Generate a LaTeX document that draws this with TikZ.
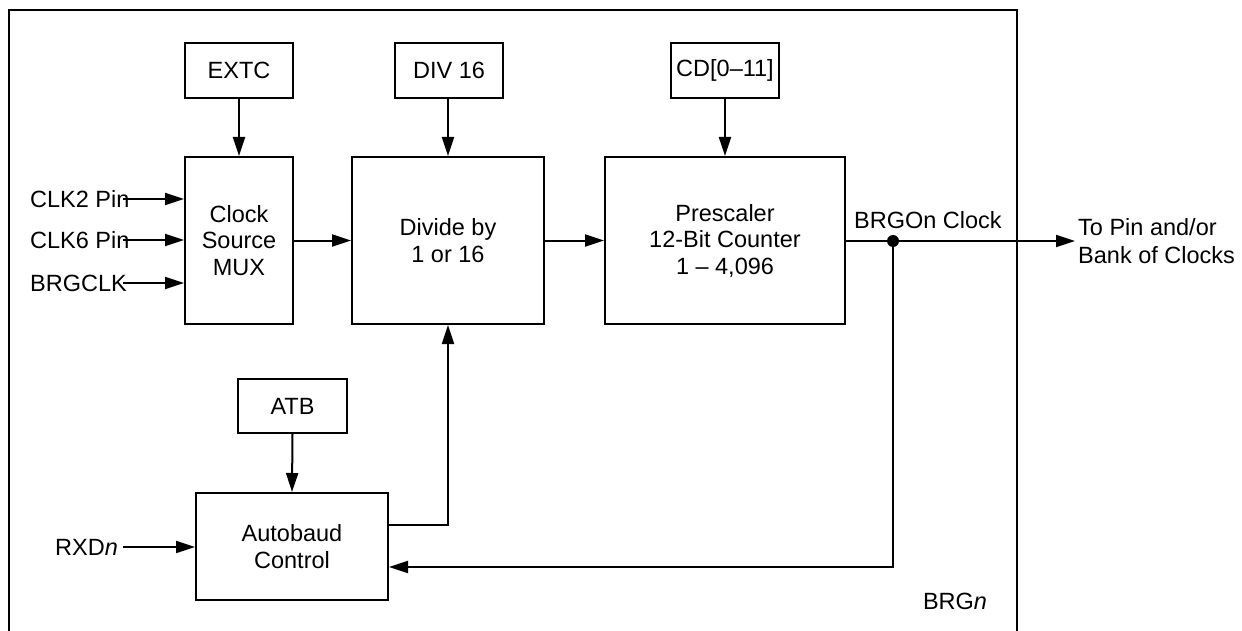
\documentclass[tikz,border=0pt]{standalone}
\usepackage{fontspec}
\setmainfont{Liberation Sans}
\usetikzlibrary{arrows.meta}
\tikzset{
  blk/.style={draw, line width=2pt, minimum width=#1, inner sep=0pt, align=center,
    font=\fontsize{23.5}{26.5}\selectfont},
  lbl/.style={inner sep=0pt, font=\fontsize{23.5}{27.5}\selectfont},
  conn/.style={line width=2pt},
  arr/.style={conn, -{Triangle[length=19pt,width=12pt]}},
}
\begin{document}
\begin{tikzpicture}[x=1pt,y=-1pt]
\useasboundingbox (0,0) rectangle (1242,631);
% outer frame
\draw[conn] (9,633) -- (9,10) -- (1017,10) -- (1017,633);
% blocks
\node[blk=108pt, minimum height=55pt] (extc) at (239,70.5) {EXTC};
\node[blk=108pt, minimum height=167pt] (mux) at (239,240.5) {Clock\\Source\\MUX};
\node[blk=108pt, minimum height=55pt] (div16) at (449,70.5) {DIV 16};
\node[blk=192pt, minimum height=167pt] (divide) at (448,240.5) {Divide by\\1 or 16};
\node[blk=108pt, minimum height=55pt] (cd) at (725,70.5) {CD[0--11]};
\node[blk=240pt, minimum height=167pt] (pre) at (725,240.5) {Prescaler\\12-Bit Counter\\1 -- 4,096};
\node[blk=109pt, minimum height=54pt] (atb) at (292.5,406) {ATB};
\node[blk=192pt, minimum height=107pt] (auto) at (292,546.5) {Autobaud\\Control};
% labels
\node[lbl, anchor=west] (clk2) at (30,199) {CLK2 Pin};
\node[lbl, anchor=west] (clk6) at (30,240) {CLK6 Pin};
\node[lbl, anchor=west] (brgclk) at (30,283) {BRGCLK};
\node[lbl, anchor=west] (rxd) at (55,547) {RXD\textit{n}};
\node[lbl, anchor=west] (brgo) at (854,220) {BRGOn Clock};
\node[lbl, anchor=west, align=left] (topin) at (1078,241) {To Pin and/or\\Bank of Clocks};
\node[lbl] (brgn) at (955,601) {BRG\textit{n}};
% coordinates
\coordinate (c2s) at (123,199);
\coordinate (c6s) at (123,240);
\coordinate (bcs) at (123,283);
\coordinate (rxs) at (123,547);
\coordinate (dot) at (893,241);
\coordinate (outend) at (1075,241);
\coordinate (abx) at (448,525);
% top arrows
\draw[arr] (extc.south) -- (mux.north);
\draw[arr] (div16.south -| divide.north) -- (divide.north);
\draw[arr] (cd.south) -- (pre.north);
\draw[arr] (atb.south) -- (auto.north);
% inputs
\draw[arr] (c2s) -- (c2s -| mux.west);
\draw[arr] (c6s) -- (c6s -| mux.west);
\draw[arr] (bcs) -- (bcs -| mux.west);
\draw[arr] (rxs) -- (rxs -| auto.west);
% chain
\draw[arr] (mux.east) -- (divide.west);
\draw[arr] (divide.east) -- (divide.east -| pre.west);
\draw[arr] (pre.east |- dot) -- (outend);
\fill (dot) circle (6pt);
% feedback
\draw[arr] (dot) -- (893,567) -- (auto.east |- 0,567);
% autobaud to divide
\draw[arr] (auto.east |- abx) -- (abx) -- (divide.south);
\end{tikzpicture}
\end{document}
